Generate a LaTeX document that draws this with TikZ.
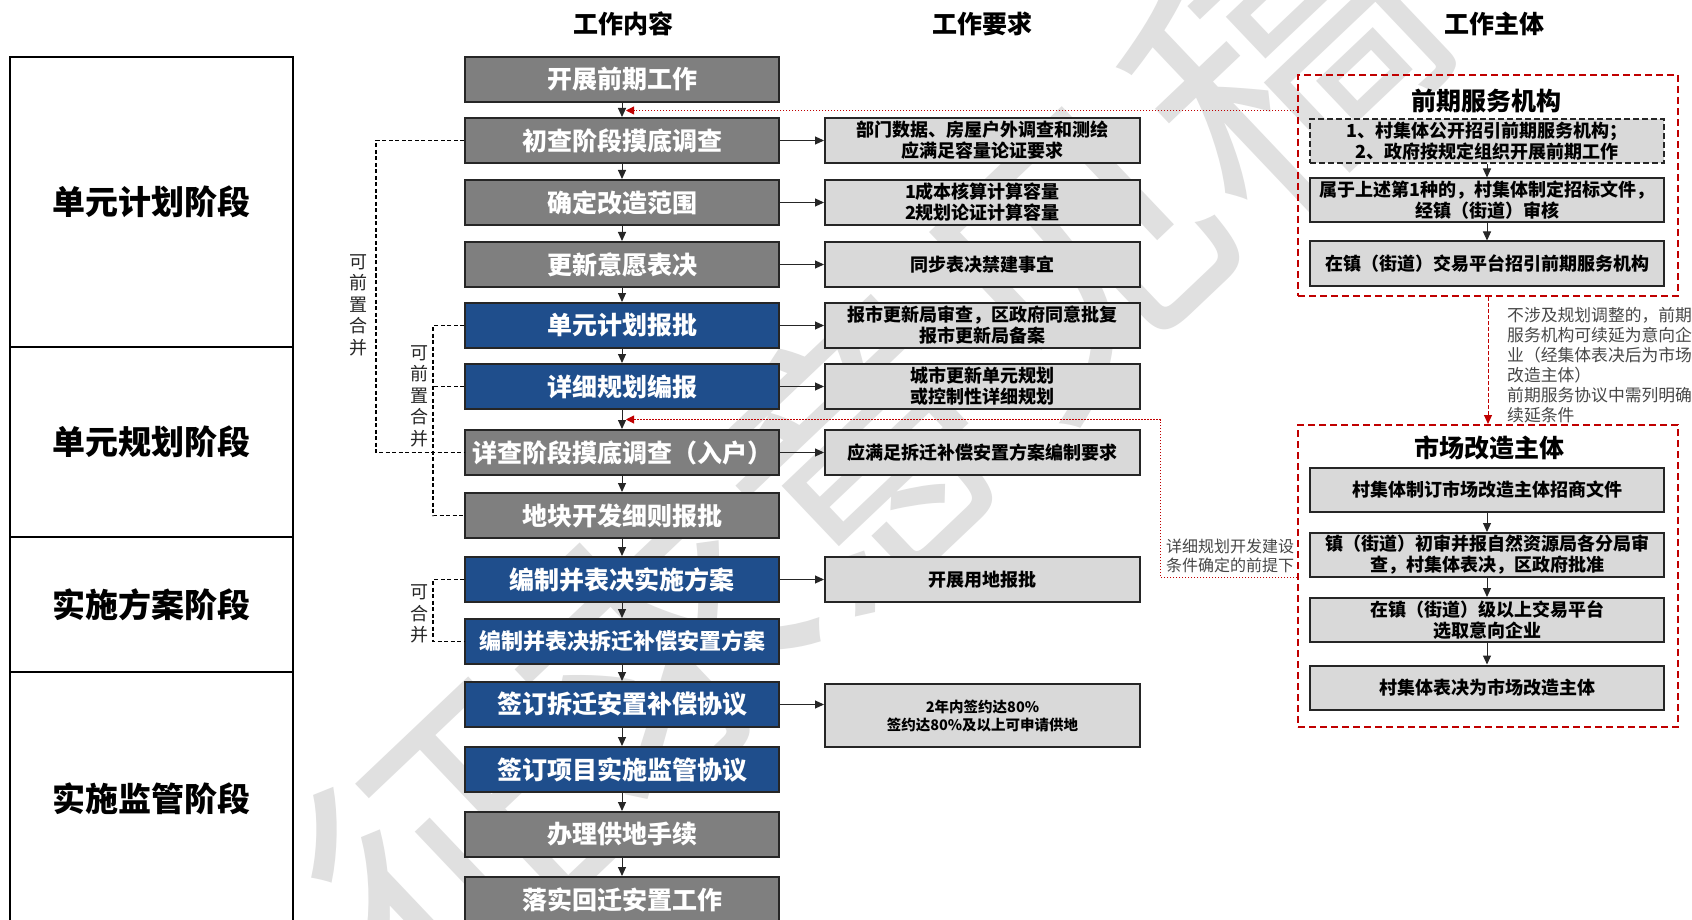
\documentclass[tikz,border=0pt]{standalone}
\usepackage{fontspec}
\setmainfont{Noto Sans CJK SC}
\usetikzlibrary{arrows.meta,calc}
\definecolor{boxgray}{HTML}{7F7F7F}
\definecolor{boxblue}{HTML}{1F4E8C}
\definecolor{boxlight}{HTML}{D9D9D9}
\definecolor{edgedark}{HTML}{262626}
\definecolor{redline}{HTML}{C00000}
\begin{document}
\begin{tikzpicture}[x=1pt,y=-1pt,
  cbox/.style={draw=edgedark, line width=2pt, minimum width=314pt, minimum height=45pt, inner sep=0pt, text=white, font=\fontsize{25}{30}\selectfont\bfseries},
  graybox/.style={cbox, fill=boxgray},
  bluebox/.style={cbox, fill=boxblue},
  reqbox/.style={draw=edgedark, line width=2pt, fill=boxlight, minimum width=315pt, minimum height=45pt, inner sep=0pt, align=center, font=\fontsize{18}{21}\selectfont\bfseries},
  subbox/.style={reqbox, minimum width=354pt, minimum height=44pt},
  grp/.style={draw=redline, line width=2pt, dash pattern=on 7pt off 4pt, minimum width=380pt, inner sep=0pt},
  arr/.style={-{Triangle[length=9pt,width=8pt]}, line width=1pt, draw=black!85},
  redarr/.style={-{Triangle[length=9pt,width=8pt]}, line width=1pt, draw=redline},
  bracket/.style={line width=1.5pt, dash pattern=on 4pt off 2.5pt},
  reddot/.style={draw=redline, line width=1pt, dash pattern=on 1.5pt off 1.5pt},
  vtext/.style={align=center, font=\fontsize{18}{21.5}\selectfont, inner sep=0pt, text=black!85},
  hdr/.style={font=\fontsize{25}{30}\selectfont\bfseries},
  phase/.style={draw=black, line width=1.5pt, minimum width=283pt, inner sep=0pt, font=\fontsize{33}{40}\selectfont\bfseries},
  gtitle/.style={font=\fontsize{25}{30}\selectfont\bfseries},
  note/.style={inner sep=0pt, text=black!72, font=\fontsize{16.8}{20}\selectfont}
]
\clip (0,0) rectangle (1692,920);
\fill[white] (0,0) rectangle (1692,920);

% watermark
\node[rotate=43.5, text=black!12, inner sep=0pt, font=\fontsize{285}{285}\selectfont] (wm) at (868,448) {征求意见稿};

% headers
\node[hdr] (h1) at (623,24) {工作内容};
\node[hdr] (h2) at (982,24) {工作要求};
\node[hdr] (h3) at (1494,24) {工作主体};

% phase table
\node[phase, fill=white, minimum height=290pt] (s1) at (151.5,202) {单元计划阶段};
\node[phase, fill=white, minimum height=190pt] (s2) at (151.5,442) {单元规划阶段};
\node[phase, fill=white, minimum height=135pt] (s3) at (151.5,604.5) {实施方案阶段};
\node[phase, fill=white, minimum height=253pt] (s4) at (151.5,798.5) {实施监管阶段};

% centre column
\node[graybox] (c1) at (622,79.5) {开展前期工作};
\node[graybox] (c2) at (622,140.5) {初查阶段摸底调查};
\node[graybox] (c3) at (622,202.5) {确定改造范围};
\node[graybox] (c4) at (622,264.5) {更新意愿表决};
\node[bluebox] (c5) at (622,325.5) {单元计划报批};
\node[bluebox] (c6) at (622,386.5) {详细规划编报};
\node[graybox] (c7) at (622,452.5) {详查阶段摸底调查（入户）};
\node[graybox] (c8) at (622,515.5) {地块开发细则报批};
\node[bluebox] (c9) at (622,579.5) {编制并表决实施方案};
\node[bluebox, font=\fontsize{22}{26}\selectfont\bfseries] (c10) at (622,641.5) {编制并表决拆迁补偿安置方案};
\node[bluebox] (c11) at (622,704.5) {签订拆迁安置补偿协议};
\node[bluebox] (c12) at (622,769.5) {签订项目实施监管协议};
\node[graybox] (c13) at (622,834.5) {办理供地手续};
\node[graybox] (c14) at (622,899.5) {落实回迁安置工作};

\foreach \a/\b in {c1/c2,c2/c3,c3/c4,c4/c5,c5/c6,c6/c7,c7/c8,c8/c9,c9/c10,c10/c11,c11/c12,c12/c13,c13/c14}
  \draw[arr] (\a) -- (\b);

% requirement column
\node[reqbox] (r2) at (982.5,140.5) {部门数据、房屋户外调查和测绘\\应满足容量论证要求};
\node[reqbox] (r3) at (982.5,202.5) {1成本核算计算容量\\2规划论证计算容量};
\node[reqbox] (r4) at (982.5,264.5) {同步表决禁建事宜};
\node[reqbox] (r5) at (982.5,325.5) {报市更新局审查，区政府同意批复\\报市更新局备案};
\node[reqbox] (r6) at (982.5,386.5) {城市更新单元规划\\或控制性详细规划};
\node[reqbox] (r7) at (982.5,452.5) {应满足拆迁补偿安置方案编制要求};
\node[reqbox] (r9) at (982.5,579.5) {开展用地报批};
\node[reqbox, minimum height=63pt, font=\fontsize{14.5}{18}\selectfont\bfseries] (r11) at (982.5,715.5) {2年内签约达80\%\\签约达80\%及以上可申请供地};

\foreach \a/\b in {c2/r2,c3/r3,c4/r4,c5/r5,c6/r6,c7/r7,c9/r9}
  \draw[arr] (\a) -- (\b);
\draw[arr] (c11.east) -- (c11.east -| r11.west);

% merge brackets
\draw[bracket] (c2.west) -- ++(-88,0) |- (c7.west);
\draw[bracket] (c5.west) -- ++(-31,0) |- (c8.west);
\draw[bracket] (c6.west) -- ++(-31,0);
\draw[bracket] (c9.west) -- ++(-31,0) |- (c10.west);
\node[vtext] (v1) at (358,305) {可\\前\\置\\合\\并};
\node[vtext] (v2) at (419,396) {可\\前\\置\\合\\并};
\node[vtext] (v3) at (419,614) {可\\合\\并};

% group 1
\node[grp, minimum height=221pt] (g1) at (1488,185.5) {};
\node[gtitle] (t1) at (1486,101) {前期服务机构};
\node[subbox, dash pattern=on 6pt off 3pt] (p0) at (1487,141) {1、村集体公开招引前期服务机构；\\2、政府按规定组织开展前期工作};
\node[subbox] (p1) at (1487,200.5) {属于上述第1种的，村集体制定招标文件，\\经镇（街道）审核};
\node[subbox] (p2) at (1487,263.5) {在镇（街道）交易平台招引前期服务机构};
\draw[arr] (p0) -- (p1);
\draw[arr] (p1) -- (p2);

% group 2
\node[grp, minimum height=302pt] (g2) at (1488,576) {};
\node[gtitle] (t2) at (1489,448) {市场改造主体};
\node[subbox] (m1) at (1487,490) {村集体制订市场改造主体招商文件};
\node[subbox] (m2) at (1487,555) {镇（街道）初审并报自然资源局各分局审\\查，村集体表决，区政府批准};
\node[subbox] (m3) at (1487,620) {在镇（街道）级以上交易平台\\选取意向企业};
\node[subbox] (m4) at (1487,687.5) {村集体表决为市场改造主体};
\draw[arr] (m1) -- (m2);
\draw[arr] (m2) -- (m3);
\draw[arr] (m3) -- (m4);

% red links
\draw[redarr, dash pattern=on 4pt off 2pt] (g1) -- (g2);
\node[note, anchor=north west, align=left] (n1) at (1507,307) {不涉及规划调整的，前期\\服务机构可续延为意向企\\业（经集体表决后为市场\\改造主体）\\前期服务协议中需列明确\\续延条件};

\coordinate (ra1) at (626,110.5);
\draw[reddot, -{Triangle[length=8pt,width=8pt]}] (g1.west |- ra1) -- (ra1);

\coordinate (k1) at (1160,577);
\coordinate (k2) at (1160,419.5);
\coordinate (ra2) at (626,419.5);
\draw[reddot, -{Triangle[length=8pt,width=8pt]}] (g2.west |- k1) -- (k1) -- (k2) -- (ra2);
\node[note, align=center, font=\fontsize{16}{19}\selectfont] (n2) at (1230,556) {详细规划开发建设\\条件确定的前提下};
\end{tikzpicture}
\end{document}
